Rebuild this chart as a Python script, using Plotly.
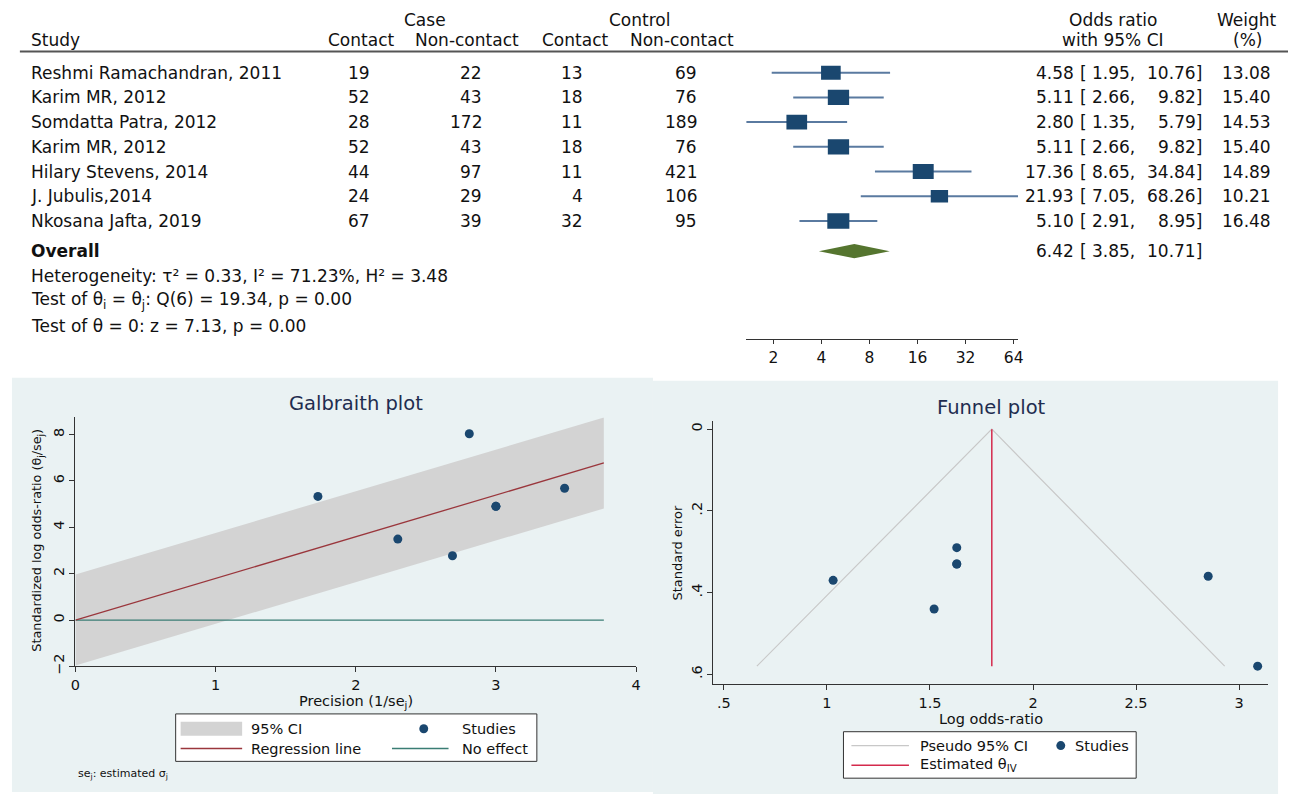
import math
import plotly.graph_objects as go

W, H = 1293, 803
FONT = "DejaVu Sans"


def px(x):
    return x / W


def py(y):
    return 1 - y / H


# ---------------- data ----------------
studies = ["Reshmi Ramachandran, 2011", "Karim MR, 2012", "Somdatta Patra, 2012",
           "Karim MR, 2012", "Hilary Stevens, 2014", "J. Jubulis,2014", "Nkosana Jafta, 2019"]
case_contact = [19, 52, 28, 52, 44, 24, 67]
case_noncontact = [22, 43, 172, 43, 97, 29, 39]
ctrl_contact = [13, 18, 11, 18, 11, 4, 32]
ctrl_noncontact = [69, 76, 189, 76, 421, 106, 95]
odds_ratio = [4.58, 5.11, 2.80, 5.11, 17.36, 21.93, 5.10]
ci_low = [1.95, 2.66, 1.35, 2.66, 8.65, 7.05, 2.91]
ci_high = [10.76, 9.82, 5.79, 9.82, 34.84, 68.26, 8.95]
weight = [13.08, 15.40, 14.53, 15.40, 14.89, 10.21, 16.48]
overall_or = 6.42
overall_lo = 3.85
overall_hi = 10.71
forest_ticks = [2, 4, 8, 16, 32, 64]

gal_precision = [2.30, 3.00, 2.69, 3.00, 2.81, 1.73, 3.49]
gal_std_effect = [3.49, 4.90, 2.77, 4.90, 8.03, 5.33, 5.68]
gal_line_x = [0, 3.77]
gal_reg_y = [0, 6.77]
gal_ci_upper = [1.96, 8.73]
gal_ci_lower = [-1.96, 4.81]
gal_noeffect_y = [0, 0]
gal_xticks = [0, 1, 2, 3, 4]
gal_yticks = [-2, 0, 2, 4, 6, 8]

fun_log_or = [1.52, 1.63, 1.03, 1.63, 2.85, 3.09, 1.63]
fun_se = [0.44, 0.33, 0.37, 0.33, 0.36, 0.58, 0.29]
fun_pseudo_x = [0.66, 1.80, 2.93]
fun_pseudo_se = [0.58, 0.0, 0.58]
fun_theta_x = [1.80, 1.80]
fun_theta_se = [0.0, 0.58]
fun_xticks = [0.5, 1, 1.5, 2, 2.5, 3]
fun_xticktext = [".5", "1", "1.5", "2", "2.5", "3"]
fun_yticks = [0, 0.2, 0.4, 0.6]
fun_yticktext = ["0", ".2", ".4", ".6"]

# colours
NAVY = "#1a476f"
CI_BLUE = "#5a7aa0"
GREEN = "#55752f"
MAROON = "#9a363c"
TEAL = "#3a7d74"
CRANBERRY = "#d42a4c"
BAND = "#d3d3d3"
PSEUDO = "#c8c8c8"
PANEL = "#eaf2f3"
AX = "#333333"
TXT = "#111111"
TITLE = "#1f2d50"

rows = list(range(len(studies)))
overall_row = 7.22

F_X0, F_X1 = 747, 1021
F_LOGMIN, F_LOGMAX = math.log10(1.35), math.log10(68.26)
px_per_decade = (F_X1 - F_X0) / (F_LOGMAX - F_LOGMIN)
ROW_PX = 25.0

fig = go.Figure()

# ---------------- forest plot ----------------
seg_x, seg_y = [], []
for r, lo, hi in zip(rows, ci_low, ci_high):
    seg_x += [lo, hi, None]
    seg_y += [r, r, None]
fig.add_trace(go.Scatter(x=seg_x, y=seg_y, mode="lines", xaxis="x", yaxis="y",
                         line=dict(color=CI_BLUE, width=2), showlegend=False, hoverinfo="skip"))

box_x, box_y = [], []
for r, est, w in zip(rows, odds_ratio, weight):
    hw = 5.47 * math.sqrt(w) / 2 / px_per_decade
    hh = 3.9 * math.sqrt(w) / 2 / ROW_PX
    x0, x1 = est * 10 ** (-hw), est * 10 ** hw
    box_x += [x0, x1, x1, x0, x0, None]
    box_y += [r - hh, r - hh, r + hh, r + hh, r - hh, None]
fig.add_trace(go.Scatter(x=box_x, y=box_y, mode="lines", fill="toself", fillcolor=NAVY,
                         line=dict(width=0, color=NAVY), xaxis="x", yaxis="y",
                         showlegend=False, hoverinfo="skip"))

dh = 0.29
fig.add_trace(go.Scatter(x=[overall_lo, overall_or, overall_hi, overall_or, overall_lo],
                         y=[overall_row, overall_row - dh, overall_row, overall_row + dh, overall_row],
                         mode="lines", fill="toself", fillcolor=GREEN, line=dict(width=0, color=GREEN),
                         xaxis="x", yaxis="y", showlegend=False, hoverinfo="skip"))

# ---------------- Galbraith plot ----------------
fig.add_trace(go.Scatter(x=gal_line_x + gal_line_x[::-1], y=gal_ci_upper + gal_ci_lower[::-1],
                         mode="lines", fill="toself", fillcolor=BAND, line=dict(width=0, color=BAND),
                         xaxis="x2", yaxis="y2", showlegend=False, hoverinfo="skip"))
fig.add_trace(go.Scatter(x=gal_line_x, y=gal_noeffect_y, mode="lines", line=dict(color=TEAL, width=1.3),
                         xaxis="x2", yaxis="y2", showlegend=False))
fig.add_trace(go.Scatter(x=gal_line_x, y=gal_reg_y, mode="lines", line=dict(color=MAROON, width=1.3),
                         xaxis="x2", yaxis="y2", showlegend=False))
fig.add_trace(go.Scatter(x=gal_precision, y=gal_std_effect, mode="markers",
                         marker=dict(color=NAVY, size=9), xaxis="x2", yaxis="y2", showlegend=False))

# ---------------- Funnel plot ----------------
fig.add_trace(go.Scatter(x=fun_pseudo_x, y=fun_pseudo_se, mode="lines", line=dict(color=PSEUDO, width=1.2),
                         xaxis="x3", yaxis="y3", showlegend=False))
fig.add_trace(go.Scatter(x=fun_theta_x, y=fun_theta_se, mode="lines", line=dict(color=CRANBERRY, width=1.5),
                         xaxis="x3", yaxis="y3", showlegend=False))
fig.add_trace(go.Scatter(x=fun_log_or, y=fun_se, mode="markers", marker=dict(color=NAVY, size=9),
                         xaxis="x3", yaxis="y3", showlegend=False))

# ---------------- annotations ----------------
ann = []


def text(t, x, y, anchor="left", size=17, yref="paper", color=TXT, angle=0):
    yy = py(y) if yref == "paper" else y
    ann.append(dict(text=t, x=px(x), y=yy, xref="paper", yref=yref, xanchor=anchor,
                    yanchor="middle", showarrow=False, textangle=angle,
                    borderpad=0, borderwidth=0,
                    font=dict(family=FONT, size=size, color=color)))


text("Case", 423, 20, "center")
text("Control", 639, 20, "center")
text("Odds ratio", 1117, 20, "center")
text("Weight", 1252, 20, "center")
text("Study", 26, 40)
text("Contact", 359, 40, "center")
text("Non-contact", 466, 40, "center")
text("Contact", 574, 40, "center")
text("Non-contact", 682, 40, "center")
text("with 95% CI", 1117, 40, "center")
text("(%)", 1252, 40, "center")

for r in rows:
    text(studies[r], 26, r, yref="y")
    text(str(case_contact[r]), 368, r, "right", yref="y")
    text(str(case_noncontact[r]), 481, r, "right", yref="y")
    text(str(ctrl_contact[r]), 583, r, "right", yref="y")
    text(str(ctrl_noncontact[r]), 697, r, "right", yref="y")
    text(f"{odds_ratio[r]:.2f}", 1077, r, "right", yref="y")
    text("[", 1083, r, "left", yref="y")
    text(f"{ci_low[r]:.2f},", 1139, r, "right", yref="y")
    text(f"{ci_high[r]:.2f}]", 1206, r, "right", yref="y")
    text(f"{weight[r]:.2f}", 1276, r, "right", yref="y")

text("<b>Overall</b>", 26, overall_row, yref="y")
text(f"{overall_or:.2f}", 1077, overall_row, "right", yref="y")
text("[", 1083, overall_row, "left", yref="y")
text(f"{overall_lo:.2f},", 1139, overall_row, "right", yref="y")
text(f"{overall_hi:.2f}]", 1206, overall_row, "right", yref="y")

text("Heterogeneity: τ² = 0.33, I² = 71.23%, H² = 3.48", 26, 279.5)
text("Test of θ<sub>i</sub> = θ<sub>j</sub>: Q(6) = 19.34, p = 0.00", 26, 304)
text("Test of θ = 0: z = 7.13, p = 0.00", 26, 329.5)

text("Galbraith plot", 354, 408, "center", size=19.5, color=TITLE)
text("Precision (1/se<sub>j</sub>)", 354, 710, "center", size=14.5)
text("Standardized log odds-ratio (θ<sub>j</sub>/se<sub>j</sub>)", 33, 546, "center", size=12.8, angle=-90)
text("se<sub>j</sub>: estimated σ<sub>j</sub>", 74, 783, "left", size=11)
text("95% CI", 248, 737, size=14.5)
text("Studies", 461, 737, size=14.5)
text("Regression line", 248, 757, size=14.5)
text("No effect", 461, 757, size=14.5)

text("Funnel plot", 994, 412, "center", size=19.5, color=TITLE)
text("Log odds-ratio", 994, 727, "center", size=14.5)
text("Standard error", 678, 559, "center", size=13, angle=-90)
text("Pseudo 95% CI", 922, 754, size=14.5)
text("Studies", 1078, 754, size=14.5)
text("Estimated θ<sub>IV</sub>", 922, 774, size=14.5)

shapes = [
    dict(type="rect", xref="paper", yref="paper", x0=px(7), x1=px(653), y0=py(801), y1=py(382),
         fillcolor=PANEL, line=dict(width=0), layer="below"),
    dict(type="rect", xref="paper", yref="paper", x0=px(653), x1=px(1283), y0=py(803), y1=py(385),
         fillcolor=PANEL, line=dict(width=0), layer="below"),
    dict(type="line", xref="paper", yref="paper", x0=px(15), x1=px(1293), y0=py(52), y1=py(52),
         line=dict(color="#555555", width=2)),
    dict(type="rect", xref="paper", yref="paper", x0=px(172), x1=px(536), y0=py(770), y1=py(722),
         fillcolor="white", line=dict(color=AX, width=1)),
    dict(type="rect", xref="paper", yref="paper", x0=px(177), x1=px(239), y0=py(744), y1=py(730),
         fillcolor=BAND, line=dict(width=0)),
    dict(type="line", xref="paper", yref="paper", x0=px(177), x1=px(239), y0=py(757), y1=py(757),
         line=dict(color=MAROON, width=1.3)),
    dict(type="circle", xref="paper", yref="paper", x0=px(417.5), x1=px(426.5), y0=py(741.5), y1=py(732.5),
         fillcolor=NAVY, line=dict(width=0)),
    dict(type="line", xref="paper", yref="paper", x0=px(390), x1=px(447), y0=py(757), y1=py(757),
         line=dict(color=TEAL, width=1.3)),
    dict(type="rect", xref="paper", yref="paper", x0=px(845), x1=px(1140), y0=py(787), y1=py(740),
         fillcolor="white", line=dict(color=AX, width=1)),
    dict(type="line", xref="paper", yref="paper", x0=px(853), x1=px(911), y0=py(754), y1=py(754),
         line=dict(color=PSEUDO, width=1.2)),
    dict(type="circle", xref="paper", yref="paper", x0=px(1059.5), x1=px(1068.5), y0=py(758.5), y1=py(749.5),
         fillcolor=NAVY, line=dict(width=0)),
    dict(type="line", xref="paper", yref="paper", x0=px(853), x1=px(911), y0=py(774), y1=py(774),
         line=dict(color=CRANBERRY, width=1.5)),
]

tickfont = dict(family=FONT, size=14.5, color=TXT)
common_ax = dict(showline=True, linecolor=AX, linewidth=1, ticks="outside", ticklen=5,
                 tickcolor=AX, zeroline=False, fixedrange=True, tickfont=tickfont)

fig.update_layout(
    width=W, height=H, autosize=False,
    margin=dict(l=0, r=0, t=0, b=0),
    paper_bgcolor="white", plot_bgcolor="white",
    showlegend=False,
    font=dict(family=FONT, color=TXT),
    xaxis=dict(type="log", range=[F_LOGMIN, F_LOGMAX], domain=[px(F_X0), px(F_X1)], anchor="y",
               tickvals=forest_ticks, ticktext=[str(t) for t in forest_ticks], showgrid=False,
               **{**common_ax, "ticklen": 4, "tickfont": dict(family=FONT, size=15.5, color=TXT)}),
    yaxis=dict(domain=[py(343), py(0)], range=[(343 - 73.5) / ROW_PX, (0 - 73.5) / ROW_PX],
               visible=False, fixedrange=True, anchor="x"),
    xaxis2=dict(domain=[px(71), px(636)], range=[0, 4], anchor="y2", tickvals=gal_xticks,
                showgrid=False, **common_ax),
    yaxis2=dict(domain=[py(674), py(422)], range=[-2, 8.74], anchor="x2", tickvals=gal_yticks,
                tickangle=-90, showgrid=True, gridcolor=PANEL, gridwidth=1, **common_ax),
    xaxis3=dict(domain=[px(714), px(1273)], range=[0.4494, 3.141], anchor="y3", tickvals=fun_xticks,
                ticktext=fun_xticktext, showgrid=False, **common_ax),
    yaxis3=dict(domain=[py(692), py(426)], range=[0.6242, -0.0194], anchor="x3", tickvals=fun_yticks,
                ticktext=fun_yticktext, tickangle=-90, showgrid=True, gridcolor=PANEL, gridwidth=1,
                **common_ax),
    annotations=ann,
    shapes=shapes,
)

fig.write_html("out.html", config={"displayModeBar": False},
               post_script="document.body.style.margin='0';document.body.style.overflow='hidden';")
